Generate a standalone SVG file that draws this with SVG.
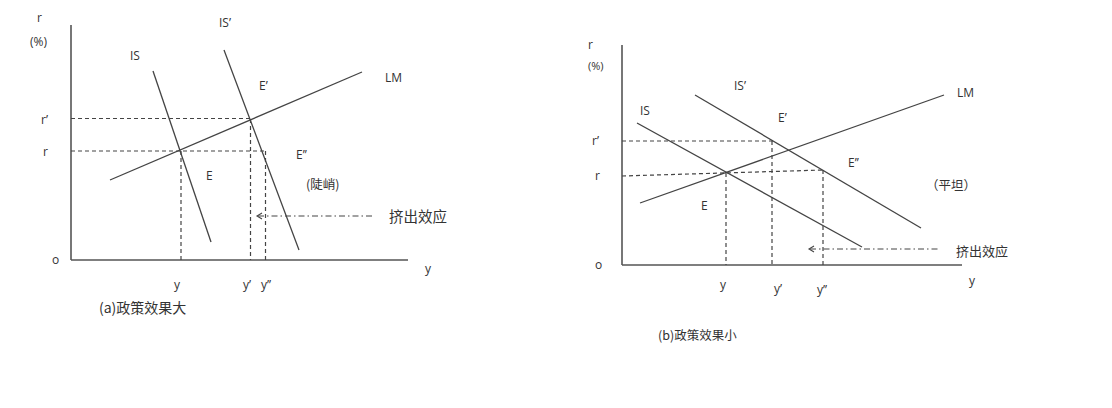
<svg xmlns="http://www.w3.org/2000/svg" width="1112" height="408" viewBox="0 0 1112 408">
<style>
.bg{fill:#ffffff}
.ax{stroke:#555;stroke-width:1.6;fill:none}
.cv{stroke:#444;stroke-width:1.3;fill:none}
.ds{stroke:#444;stroke-width:1.2;stroke-dasharray:4 3;fill:none}
.dd{stroke:#444;stroke-width:1.1;stroke-dasharray:6 3 1.5 3;fill:none}
.ar{stroke:#444;stroke-width:1.1;fill:none}
text{font-family:"Open Sans","Noto Sans","Noto Sans CJK SC",sans-serif;font-size:12px;fill:#333}
.cn{font-family:"Noto Sans CJK SC","Noto Sans",sans-serif;font-size:14px}
.cs{font-family:"Noto Sans CJK SC","Noto Sans",sans-serif;font-size:12.5px}
</style>
<rect class="bg" width="1112" height="408"/>
<g id="panel-a">
  <g id="axes-a">
    <line class="ax" x1="71" y1="25" x2="71" y2="260"/>
    <line class="ax" x1="71" y1="260" x2="408" y2="260"/>
    <text x="37" y="22">r</text>
    <text x="30" y="46">(%)</text>
    <text x="52" y="264">o</text>
    <text x="425" y="273">y</text>
  </g>
  <g id="curves-a">
    <line class="cv" x1="153" y1="71" x2="211" y2="242"/>
    <line class="cv" x1="224" y1="50" x2="299" y2="250"/>
    <line class="cv" x1="110" y1="180" x2="362" y2="72"/>
    <text x="130" y="60">IS</text>
    <text x="219" y="27">IS’</text>
    <text x="385" y="82">LM</text>
  </g>
  <g id="guides-a">
    <line class="ds" x1="71" y1="118.5" x2="250" y2="118.5"/>
    <line class="ds" x1="71" y1="151" x2="266" y2="151"/>
    <line class="ds" x1="181" y1="151" x2="181" y2="260"/>
    <line class="ds" x1="250.5" y1="119" x2="250.5" y2="260"/>
    <line class="ds" x1="265.5" y1="151" x2="265.5" y2="260"/>
    <text x="41" y="124">r’</text>
    <text x="43" y="156">r</text>
    <text x="174" y="289">y</text>
    <text x="243" y="289">y’</text>
    <text x="261" y="289">y’’</text>
  </g>
  <g id="labels-a">
    <text x="206" y="180">E</text>
    <text x="259" y="90">E’</text>
    <text x="296" y="159">E’’</text>
    <text class="cs" x="306" y="189">(陡峭)</text>
  </g>
  <g id="crowd-a">
    <line class="dd" x1="258" y1="216" x2="372" y2="216"/>
    <polyline class="ar" points="262,213 257,216 262,219"/>
    <text class="cn" x="389" y="222" style="font-size:14.5px">挤出效应</text>
  </g>
  <text class="cs" x="99" y="313" style="font-size:14px">(a)政策效果大</text>
</g>
<g id="panel-b">
  <g id="axes-b">
    <line class="ax" x1="622" y1="45" x2="622" y2="265"/>
    <line class="ax" x1="622" y1="265" x2="962" y2="265"/>
    <text x="588" y="49">r</text>
    <text x="588" y="70" style="font-size:11px">(%)</text>
    <text x="595" y="269">o</text>
    <text x="969" y="285">y</text>
  </g>
  <g id="curves-b">
    <line class="cv" x1="637" y1="123" x2="862" y2="247"/>
    <line class="cv" x1="695" y1="95" x2="921" y2="228"/>
    <line class="cv" x1="640" y1="203" x2="944" y2="95"/>
    <text x="640" y="115">IS</text>
    <text x="734" y="90">IS’</text>
    <text x="957" y="97">LM</text>
  </g>
  <g id="guides-b">
    <line class="ds" x1="622" y1="141" x2="773" y2="141"/>
    <line class="ds" x1="622" y1="176" x2="823" y2="170"/>
    <line class="ds" x1="726" y1="173" x2="726" y2="265"/>
    <line class="ds" x1="772" y1="141" x2="772" y2="265"/>
    <line class="ds" x1="823" y1="170" x2="823" y2="265"/>
    <text x="592" y="145">r’</text>
    <text x="595" y="180">r</text>
    <text x="720" y="289">y</text>
    <text x="774" y="293">y’</text>
    <text x="817" y="294">y’’</text>
  </g>
  <g id="labels-b">
    <text x="701" y="210">E</text>
    <text x="778" y="122">E’</text>
    <text x="848" y="167">E’’</text>
    <text class="cs" x="926" y="190">（平坦）</text>
  </g>
  <g id="crowd-b">
    <line class="dd" x1="810" y1="249" x2="940" y2="249"/>
    <polyline class="ar" points="814,246 809,249 814,252"/>
    <text class="cn" x="956" y="256" style="font-size:13px">挤出效应</text>
  </g>
  <text class="cs" x="658" y="340">(b)政策效果小</text>
</g>
</svg>
